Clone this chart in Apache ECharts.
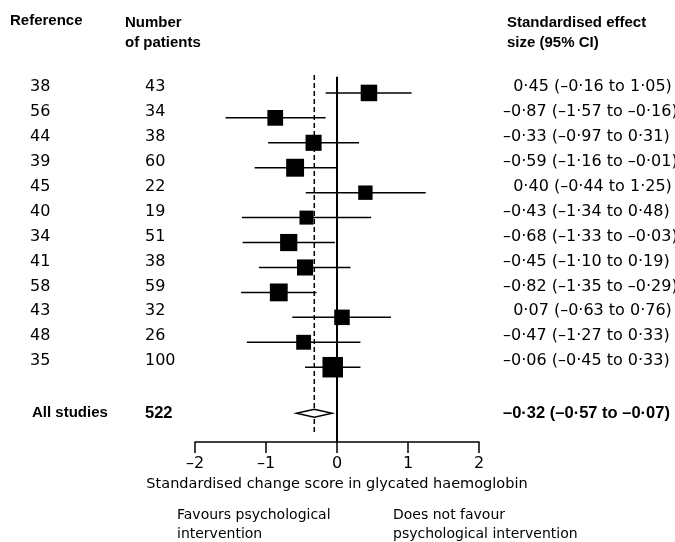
<!DOCTYPE html>
<html><head><meta charset="utf-8">
<script src="https://cdn.jsdelivr.net/npm/echarts@6/dist/echarts.min.js"></script>
<style>html,body{margin:0;padding:0;background:#fff}#c{width:675px;height:542px}</style>
</head><body><div id="c"></div>
<script>
const references = ['38','56','44','39','45','40','34','41','58','43','48','35'];
const patients = [43,34,38,60,22,19,51,38,59,32,26,100];
const effects = [0.45,-0.87,-0.33,-0.59,0.40,-0.43,-0.68,-0.45,-0.82,0.07,-0.47,-0.06];
const lower = [-0.16,-1.57,-0.97,-1.16,-0.44,-1.34,-1.33,-1.10,-1.35,-0.63,-1.27,-0.45];
const upper = [1.05,-0.16,0.31,-0.01,1.25,0.48,-0.03,0.19,-0.29,0.76,0.33,0.33];
const rows = [1,2,3,4,5,6,7,8,9,10,11,12];
const pooledLabel = 'All studies';
const pooledPatients = 522;
const pooledEffect = -0.32, pooledLower = -0.57, pooledUpper = -0.07;
const pooledRow = 13.85;
const xTicks = [-2,-1,0,1,2];
const xTitle = 'Standardised change score in glycated haemoglobin';

const FONT = "'Liberation Sans', Arial, sans-serif";
const FONT2 = "'DejaVu Sans', Verdana, sans-serif";
function fmt(v){ const s = Math.abs(v).toFixed(2).replace('.', '\u00b7'); return v < 0 ? '\u2013' + s : s; }
function ciText(e,l,u){ return (e < 0 ? '' : '\u2007') + fmt(e) + ' (' + fmt(l) + ' to ' + fmt(u) + ')'; }

const tableData = rows.map((r,i)=>[0, r, references[i], String(patients[i]), ciText(effects[i],lower[i],upper[i]), 0]);
tableData.push([0, pooledRow, pooledLabel, String(pooledPatients), ciText(pooledEffect,pooledLower,pooledUpper), 1]);

const chart = echarts.init(document.getElementById('c'), null, {renderer:'canvas'});
chart.setOption({
  backgroundColor:'#fff',
  animation:false,
  grid:{left:195, right:196, top:68, bottom:100},
  xAxis:{type:'value', min:-2, max:2, interval:1, position:'bottom',
    axisLine:{onZero:false, lineStyle:{color:'#000', width:1.5}},
    axisTick:{show:true, length:11, lineStyle:{color:'#000', width:1.5}},
    axisLabel:{color:'#000', fontSize:16, fontFamily:FONT2, margin:14,
      formatter:v=> xTicks.indexOf(v) < 0 ? '' : (v<0 ? '\u2013'+Math.abs(v) : String(v))},
    splitLine:{show:false},
    name:xTitle, nameLocation:'middle', nameGap:35,
    nameTextStyle:{color:'#000', fontSize:14.5, fontFamily:FONT2}
  },
  yAxis:{type:'value', min:0, max:15, inverse:true, show:false},
  graphic:[
    {type:'text', left:10, top:13, style:{text:'Reference', font:'bold 15px '+FONT, fill:'#000'}},
    {type:'text', left:125, top:13, style:{text:'Number\nof patients', font:'bold 15px '+FONT, fill:'#000', lineHeight:20}},
    {type:'text', left:507, top:13, style:{text:'Standardised effect\nsize (95% CI)', font:'bold 15px '+FONT, fill:'#000', lineHeight:20}},
    {type:'text', left:177, top:506, style:{text:'Favours psychological\nintervention', font:'14px '+FONT2, fill:'#000', lineHeight:19}},
    {type:'text', left:393, top:506, style:{text:'Does not favour\npsychological intervention', font:'14px '+FONT2, fill:'#000', lineHeight:19}}
  ],
  series:[
    {type:'custom', name:'refs', z:1, silent:true,
      data:[[0,0.35,15,0],[pooledEffect,0.28,14.7,1]],
      renderItem:(p,api)=>{
        const a = api.coord([api.value(0), api.value(1)]);
        const b = api.coord([api.value(0), api.value(2)]);
        const dashed = api.value(3) === 1;
        return {type:'line', shape:{x1:a[0],y1:a[1],x2:b[0],y2:b[1]},
          style:{stroke:'#000', lineWidth: dashed?1.5:2, lineDash: dashed?[5,3]:null}};
      }},
    {type:'custom', name:'ci', z:2, silent:true,
      data: rows.map((r,i)=>[lower[i], upper[i], r]),
      renderItem:(p,api)=>{
        const a = api.coord([api.value(0), api.value(2)]);
        const b = api.coord([api.value(1), api.value(2)]);
        return {type:'line', shape:{x1:a[0],y1:a[1],x2:b[0],y2:b[1]}, style:{stroke:'#000', lineWidth:1.5}};
      }},
    {type:'scatter', name:'effects', z:3, silent:true, symbol:'rect',
      data: rows.map((r,i)=>[effects[i], r, patients[i]]),
      symbolSize: v => 9 + 1.15*Math.sqrt(v[2]),
      itemStyle:{color:'#000', opacity:1}},
    {type:'custom', name:'pooled', z:4, silent:true,
      data:[[pooledLower, pooledEffect, pooledUpper, pooledRow]],
      renderItem:(p,api)=>{
        const l = api.coord([api.value(0), api.value(3)]);
        const c = api.coord([api.value(1), api.value(3)]);
        const u = api.coord([api.value(2), api.value(3)]);
        const h = 4;
        return {type:'polygon', shape:{points:[[l[0],l[1]],[c[0],c[1]-h],[u[0],u[1]],[c[0],c[1]+h]]},
          style:{fill:'#fff', stroke:'#000', lineWidth:1.5}};
      }},
    {type:'custom', name:'table', z:5, silent:true,
      data: tableData,
      renderItem:(p,api)=>{
        const d = tableData[p.dataIndex];
        const y = api.coord([0, d[1]])[1] + (d[5] ? 0 : -6);
        const font = d[5] ? ('bold 16.5px ' + FONT) : ('16px ' + FONT2);
        const labelFont = d[5] ? ('bold 15px ' + FONT) : font;
        const mk = (x, t, f) => ({type:'text', x:x, y:y, style:{text:t, font:f, fill:'#000', textVerticalAlign:'middle', verticalAlign:'middle'}});
        return {type:'group', children:[mk(d[5]?32:30, d[2], labelFont), mk(145, d[3], font), mk(503, d[4], font)]};
      }}
  ]
});
</script></body></html>
